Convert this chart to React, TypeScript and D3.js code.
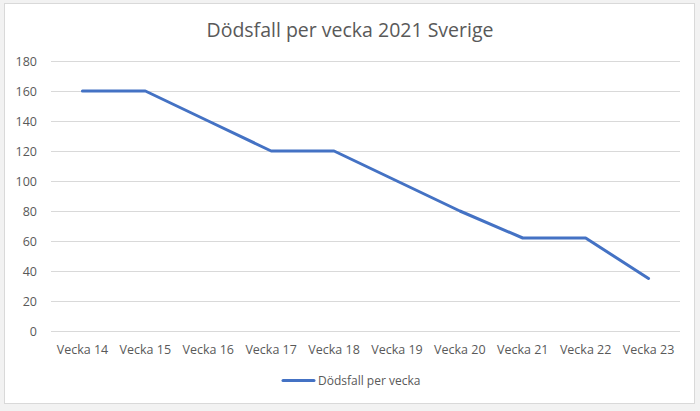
import React from "react";
import * as d3 from "d3";

const categories = ["Vecka 14", "Vecka 15", "Vecka 16", "Vecka 17", "Vecka 18", "Vecka 19", "Vecka 20", "Vecka 21", "Vecka 22", "Vecka 23"];
const values = [160, 160, 140, 120, 120, 100, 80, 62, 62, 35];
const yTicks = [0, 20, 40, 60, 80, 100, 120, 140, 160, 180];
const title = "Dödsfall per vecka 2021 Sverige";
const seriesName = "Dödsfall per vecka";

export default function App() {
  const W = 700, H = 411;
  const x = d3.scaleBand<string>().domain(categories).range([51, 680]);
  const y = d3.scaleLinear().domain([0, 180]).range([331, 61]);
  const line = d3.line<number>()
    .x((_, i) => (x(categories[i]) as number) + x.bandwidth() / 2)
    .y((d) => y(d));
  const font = "'Open Sans', sans-serif";
  const grey = "#595959";
  return (
    <svg width={W} height={H} style={{ position: "absolute", left: 0, top: 0 }}>
      <rect x={0} y={0} width={W} height={H} fill="#f2f2f2" />
      <rect x={4.5} y={3.5} width={690} height={400} fill="#ffffff" stroke="#d9d9d9" />
      <text x={350} y={37} textAnchor="middle" fontFamily={font} fontSize={19.5} fill={grey}>{title}</text>
      {yTicks.map((t) => (
        <g key={t}>
          <line x1={51} x2={680} y1={y(t) + 0.5} y2={y(t) + 0.5} stroke="#d9d9d9" strokeWidth={1} />
          <text x={37} y={y(t) + 4.5} textAnchor="end" fontFamily={font} fontSize={12.5} fill={grey}>{t}</text>
        </g>
      ))}
      {categories.map((c) => (
        <text key={c} x={(x(c) as number) + x.bandwidth() / 2} y={354} textAnchor="middle" fontFamily={font} fontSize={12.5} fill={grey}>{c}</text>
      ))}
      <path d={line(values) || ""} fill="none" stroke="#4472C4" strokeWidth={3} strokeLinejoin="round" strokeLinecap="round" />
      <line x1={283} x2={314} y1={380.5} y2={380.5} stroke="#4472C4" strokeWidth={3} strokeLinecap="round" />
      <text x={318} y={385} fontFamily={font} fontSize={12} fill={grey}>{seriesName}</text>
    </svg>
  );
}
